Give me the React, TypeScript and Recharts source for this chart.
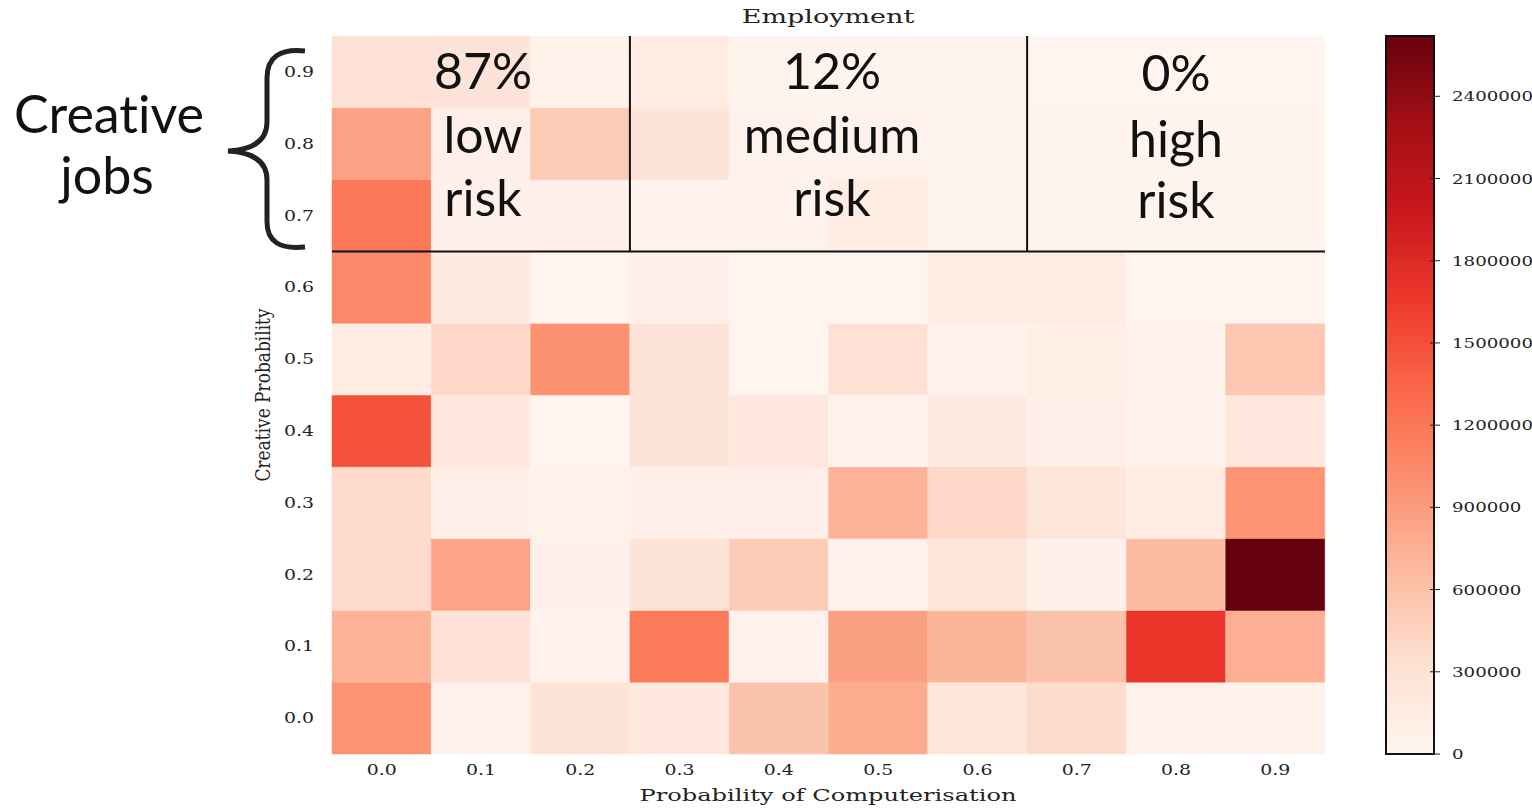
import { BarChart, Bar, Cell, XAxis, YAxis, ReferenceLine } from "recharts"

const computerisation = ["0.0", "0.1", "0.2", "0.3", "0.4", "0.5", "0.6", "0.7", "0.8", "0.9"]
const creativeProbability = ["0.0", "0.1", "0.2", "0.3", "0.4", "0.5", "0.6", "0.7", "0.8", "0.9"]

// employment per computerisation bucket, one array per creative probability row
const employment00 = [970000, 40000, 260000, 200000, 580000, 780000, 230000, 360000, 50000, 50000]
const employment01 = [730000, 290000, 40000, 1180000, 60000, 870000, 700000, 580000, 1680000, 750000]
const employment02 = [370000, 840000, 70000, 260000, 520000, 60000, 230000, 70000, 650000, 2620000]
const employment03 = [370000, 90000, 50000, 90000, 90000, 730000, 390000, 230000, 150000, 970000]
const employment04 = [1480000, 220000, 20000, 260000, 200000, 40000, 170000, 90000, 40000, 200000]
const employment05 = [130000, 390000, 980000, 260000, 20000, 310000, 40000, 100000, 50000, 550000]
const employment06 = [1050000, 180000, 20000, 80000, 20000, 20000, 160000, 160000, 20000, 20000]
const employment07 = [1200000, 80000, 80000, 40000, 40000, 130000, 30000, 30000, 30000, 30000]
const employment08 = [860000, 90000, 520000, 260000, 40000, 60000, 30000, 30000, 30000, 30000]
const employment09 = [290000, 260000, 50000, 150000, 30000, 30000, 30000, 20000, 20000, 20000]

const employmentRows = [
  employment00, employment01, employment02, employment03, employment04,
  employment05, employment06, employment07, employment08, employment09
]

const colorbarTicks = [0, 300000, 600000, 900000, 1200000, 1500000, 1800000, 2100000, 2400000]

const lowRisk = ["87%", "low", "risk"]
const mediumRisk = ["12%", "medium", "risk"]
const highRisk = ["0%", "high", "risk"]

// matplotlib "Reds"
const REDS = ["#fff5f0", "#fee0d2", "#fcbba1", "#fc9272", "#fb6a4a", "#ef3b2c", "#cb181d", "#a50f15", "#67000d"]

const vmax = Math.max(...employmentRows.flat())

function hexToRgb(hex: string) {
  const n = parseInt(hex.slice(1), 16)
  return [(n >> 16) & 255, (n >> 8) & 255, n & 255]
}

function redsColor(value: number) {
  const t = Math.min(1, Math.max(0, value / vmax)) * (REDS.length - 1)
  const i = Math.min(REDS.length - 2, Math.floor(t))
  const f = t - i
  const a = hexToRgb(REDS[i])
  const b = hexToRgb(REDS[i + 1])
  const c = a.map((v, k) => Math.round(v + (b[k] - v) * f))
  return `rgb(${c[0]},${c[1]},${c[2]})`
}

const gridData = computerisation.map((label) => {
  const row: Record<string, string | number> = { label }
  creativeProbability.forEach((_, r) => {
    row[`c${r}`] = 1
  })
  return row
})

const SERIF = "'DejaVu Serif', 'Liberation Serif', serif"
const SANS = "Lato, 'Noto Sans', sans-serif"

function StretchText({ x, y, sx = 1.35, size = 14, anchor = "middle", rotate, children }: any) {
  return (
    <g transform={`translate(${x},${y}) scale(${sx},1)${rotate ? ` rotate(${rotate})` : ""}`}>
      <text x={0} y={0} textAnchor={anchor} fontSize={size} fontFamily={SERIF} fill="#222">
        {children}
      </text>
    </g>
  )
}

function XTick({ x, y, payload }: any) {
  return <StretchText x={x} y={y + 7}>{payload.value}</StretchText>
}

function YTick({ x, y, payload }: any) {
  return (
    <StretchText x={x} y={y + 5} anchor="end">
      {creativeProbability[Math.floor(payload.value)]}
    </StretchText>
  )
}

function ColorbarTick({ x, y, payload }: any) {
  return (
    <g>
      <line x1={x - 22} x2={x - 12} y1={y} y2={y} stroke="#222" strokeWidth={1} />
      <StretchText x={x} y={y + 5} anchor="start" size={13} sx={1.4}>
        {payload.value}
      </StretchText>
    </g>
  )
}

function RiskText({ cx, lines, baselines }: any) {
  return (
    <g>
      {lines.map((line: string, i: number) => (
        <text
          key={line + i}
          x={cx}
          y={baselines[i]}
          textAnchor="middle"
          fontSize={50}
          fontFamily={SANS}
          fill="#111"
          style={{ fontVariantLigatures: "none" }}
        >
          {line}
        </text>
      ))}
    </g>
  )
}

export default function App() {
  return (
    <div style={{ position: "absolute", left: 0, top: 0, width: 1532, height: 808, background: "#fff" }}>
      <div style={{ position: "absolute", left: 0, top: 0 }}>
        <BarChart
          width={1532}
          height={808}
          data={gridData}
          margin={{ top: 36, right: 207, bottom: 24, left: 272 }}
          barCategoryGap={0}
          barGap={0}
        >
          <XAxis
            dataKey="label"
            height={30}
            interval={0}
            tickLine={false}
            axisLine={false}
            tickMargin={8}
            tick={<XTick />}
          />
          <YAxis
            type="number"
            domain={[0, 10]}
            ticks={[0.5, 1.5, 2.5, 3.5, 4.5, 5.5, 6.5, 7.5, 8.5, 9.5]}
            width={60}
            tickLine={false}
            axisLine={false}
            tickMargin={12}
            tick={<YTick />}
          />
          {creativeProbability.map((c, r) => (
            <Bar key={c} dataKey={`c${r}`} stackId="grid" isAnimationActive={false}>
              {employmentRows[r].map((value, i) => (
                <Cell key={i} fill={redsColor(value)} stroke={redsColor(value)} strokeWidth={0.5} />
              ))}
            </Bar>
          ))}
          <ReferenceLine y={7} stroke="#111" strokeWidth={2} />
          <ReferenceLine
            segment={[{ x: "0.2", y: 7 }, { x: "0.2", y: 10 }]}
            position="end"
            stroke="#111"
            strokeWidth={2}
          />
          <ReferenceLine
            segment={[{ x: "0.6", y: 7 }, { x: "0.6", y: 10 }]}
            position="end"
            stroke="#111"
            strokeWidth={2}
          />
        </BarChart>
      </div>

      <div style={{ position: "absolute", left: 1380, top: 0 }}>
        <BarChart
          width={152}
          height={808}
          data={[{ name: "Employment", max: vmax }]}
          margin={{ top: 36, right: 0, bottom: 54, left: 6 }}
          barCategoryGap={0}
        >
          <XAxis dataKey="name" hide />
          <YAxis
            orientation="right"
            type="number"
            domain={[0, vmax]}
            ticks={colorbarTicks}
            width={98}
            tickLine={false}
            axisLine={false}
            tickMargin={12}
            tick={<ColorbarTick />}
          />
          <Bar dataKey="max" fill="url(#redsGradient)" stroke="#111" strokeWidth={2} isAnimationActive={false} />
        </BarChart>
      </div>

      <svg
        width={1532}
        height={808}
        style={{ position: "absolute", left: 0, top: 0, pointerEvents: "none" }}
      >
        <defs>
          <linearGradient id="redsGradient" x1="0" y1="1" x2="0" y2="0">
            {REDS.map((c, i) => (
              <stop key={c} offset={`${(i / (REDS.length - 1)) * 100}%`} stopColor={c} />
            ))}
          </linearGradient>
        </defs>
        <StretchText x={828} y={23} size={18} sx={1.5}>Employment</StretchText>
        <StretchText x={828} y={801} size={17} sx={1.42}>Probability of Computerisation</StretchText>
        <StretchText x={270} y={395} size={17} sx={1.2} rotate={-90}>Creative Probability</StretchText>
        <RiskText cx={483} lines={lowRisk} baselines={[89, 153, 216]} />
        <RiskText cx={832} lines={mediumRisk} baselines={[89, 153, 216]} />
        <RiskText cx={1176} lines={highRisk} baselines={[91, 157, 218]} />
        <path
          d="M 305 51 Q 267 47 267 78 L 267 122 Q 267 149 228 151 Q 267 153 267 180 L 267 222 Q 267 251 305 247"
          fill="none"
          stroke="#222"
          strokeWidth={5}
        />
        <text x={109} y={133} textAnchor="middle" fontSize={52} fontFamily={SANS} fill="#111" style={{ fontVariantLigatures: "none" }}>Creative</text>
        <text x={107} y={194} textAnchor="middle" fontSize={52} fontFamily={SANS} fill="#111">jobs</text>
      </svg>
    </div>
  )
}
